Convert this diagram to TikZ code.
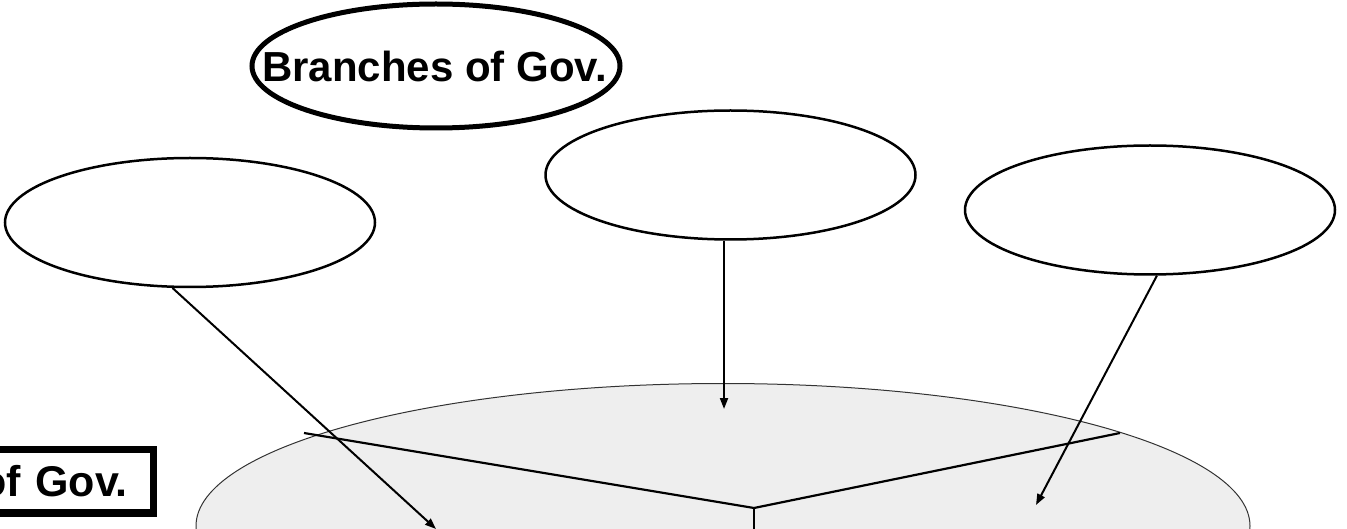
\documentclass[tikz,border=0pt]{standalone}
\usepackage{fontspec}
\setmainfont{Liberation Sans}
\usetikzlibrary{shapes.geometric,arrows.meta}
\definecolor{platefill}{HTML}{EEEEEE}
\definecolor{plateline}{HTML}{333333}
\tikzset{
  blank/.style={ellipse, draw, line width=2.5pt, minimum width=370pt, minimum height=129pt, inner sep=0pt},
  titleell/.style={ellipse, draw, line width=5pt, minimum width=368pt, minimum height=124pt, inner sep=0pt,
    font=\fontsize{42}{50}\selectfont\bfseries},
  plate/.style={ellipse, draw=plateline, fill=platefill, line width=1pt, minimum width=1054pt, minimum height=285pt, inner sep=0pt},
  boxlabel/.style={draw, line width=7.5pt, anchor=east, text width=150pt, align=right, inner xsep=25.5pt,
    minimum height=63.5pt, inner ysep=0pt, font=\fontsize{43}{50}\selectfont\bfseries},
  conn/.style={line width=2pt, -{Triangle[length=11pt,width=8pt]}},
  divider/.style={line width=2.2pt},
}
\begin{document}
\begin{tikzpicture}[x=1pt,y=-1pt]
\useasboundingbox (0,0) rectangle (1347,529);
\clip (0,0) rectangle (1347,529);
% base plate
\node[plate] (P) at (723,526) {};
\coordinate (p1) at (304,433);
\coordinate (p2) at (754,508);
\coordinate (p3) at (1120,433);
\coordinate (p4) at (754,535);
\draw[divider] (p1) -- (p2) -- (p3);
\draw[line width=1.5pt] (p2) -- (p4);
% box label
\node[boxlabel] (B) at (157,481) {of Gov.};
% title
\node[titleell] (T) at (436,66) {\makebox[0pt]{\hspace*{-3pt}Branches of Gov.}};
% three blank ellipses
\node[blank] (L) at (190,222.5) {};
\node[blank] (M) at (730.5,175) {};
\node[blank] (R) at (1150,210) {};
% targets
\coordinate (a1) at (436,529);
\coordinate (a2) at (724,409);
\coordinate (a3) at (1036,505);
\draw[conn] (L.-105.6) -- (a1);
\draw[conn] ([xshift=-6.5pt]M.south) -- (a2);
\draw[conn] (R.-84.7) -- (a3);
\end{tikzpicture}
\end{document}
